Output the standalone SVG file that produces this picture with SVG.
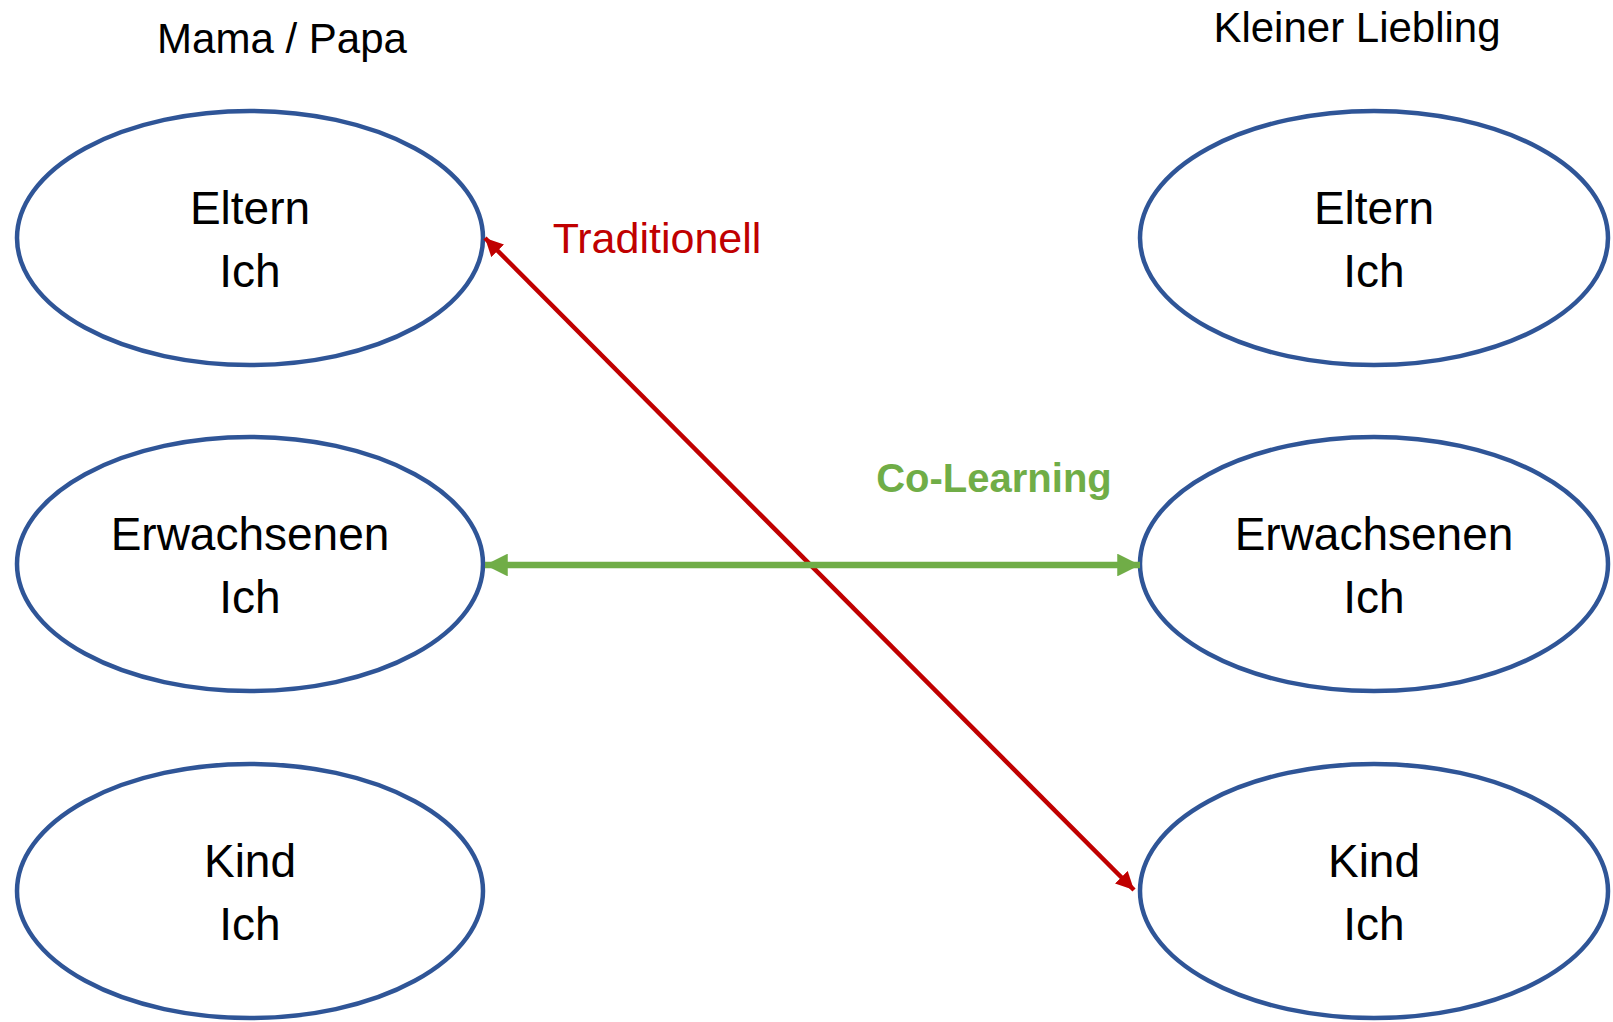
<svg xmlns="http://www.w3.org/2000/svg" width="1613" height="1022" viewBox="0 0 1613 1022">
<defs>
<style>
.node ellipse{fill:#fff;stroke:#2F5597;stroke-width:4.5}
.node text{font-family:"Liberation Sans",Arial,sans-serif;font-size:46px;fill:#000;text-anchor:middle}
.title{font-family:"Liberation Sans",Arial,sans-serif;font-size:42px;fill:#000;text-anchor:middle}
.lbl-red{font-family:"Liberation Sans",Arial,sans-serif;font-size:43px;fill:#C00000;text-anchor:middle}
.lbl-green{font-family:"Liberation Sans",Arial,sans-serif;font-size:40px;font-weight:bold;fill:#70AD47;text-anchor:middle}
</style>
<marker id="ah-red" viewBox="0 0 10 10" refX="10" refY="5" markerWidth="4" markerHeight="4" orient="auto-start-reverse" markerUnits="strokeWidth">
<path d="M0,0 L10,5 L0,10 z" fill="#C00000"/>
</marker>
<marker id="ah-green" viewBox="0 0 10 10" refX="10" refY="5" markerWidth="3.5" markerHeight="3.5" orient="auto-start-reverse" markerUnits="strokeWidth">
<path d="M0,0 L10,5 L0,10 z" fill="#70AD47"/>
</marker>
</defs>
<rect width="1613" height="1022" fill="#fff"/>
<text class="title" x="282" y="53">Mama / Papa</text>
<text class="title" x="1357" y="42">Kleiner Liebling</text>
<g id="n-parent-eltern" class="node"><ellipse cx="250" cy="238" rx="233" ry="127"/><text x="250" y="224">Eltern</text><text x="250" y="287">Ich</text></g>
<g id="n-parent-erwachsenen" class="node"><ellipse cx="250" cy="564" rx="233" ry="127"/><text x="250" y="550">Erwachsenen</text><text x="250" y="613">Ich</text></g>
<g id="n-parent-kind" class="node"><ellipse cx="250" cy="891" rx="233" ry="127"/><text x="250" y="877">Kind</text><text x="250" y="940">Ich</text></g>
<g id="n-child-eltern" class="node"><ellipse cx="1374" cy="238" rx="234" ry="127"/><text x="1374" y="224">Eltern</text><text x="1374" y="287">Ich</text></g>
<g id="n-child-erwachsenen" class="node"><ellipse cx="1374" cy="564" rx="234" ry="127"/><text x="1374" y="550">Erwachsenen</text><text x="1374" y="613">Ich</text></g>
<g id="n-child-kind" class="node"><ellipse cx="1374" cy="891" rx="234" ry="127"/><text x="1374" y="877">Kind</text><text x="1374" y="940">Ich</text></g>
<g id="connectors">
<line x1="485" y1="238" x2="1134" y2="890" stroke="#C00000" stroke-width="4.5" marker-start="url(#ah-red)" marker-end="url(#ah-red)"/>
<line x1="485" y1="565" x2="1140" y2="565" stroke="#70AD47" stroke-width="6.5" marker-start="url(#ah-green)" marker-end="url(#ah-green)"/>
<text class="lbl-red" x="657" y="253">Traditionell</text>
<text class="lbl-green" x="994" y="492">Co-Learning</text>
</g>
</svg>
